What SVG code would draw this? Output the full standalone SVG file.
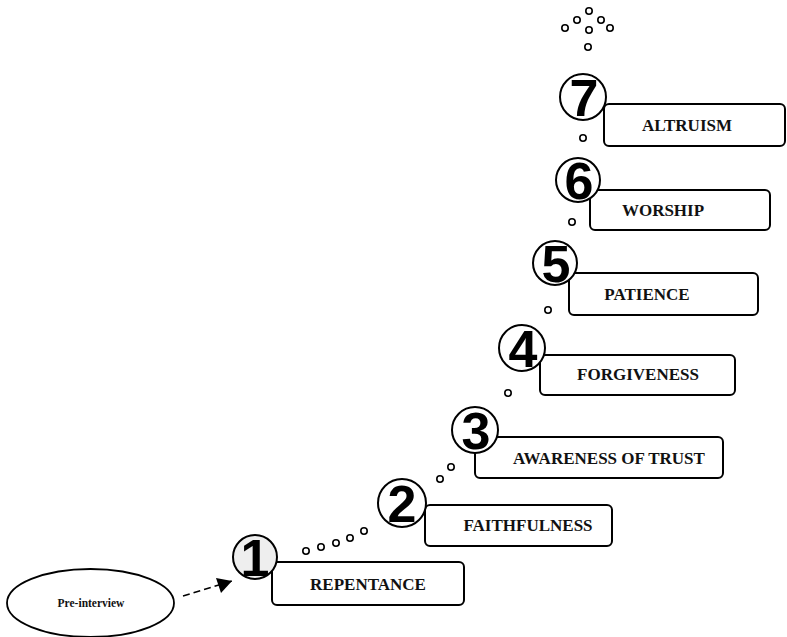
<svg xmlns="http://www.w3.org/2000/svg" width="787" height="637" viewBox="0 0 787 637">
<style>
.box{fill:#fff;stroke:#000;stroke-width:2}
.num{fill:#fff;stroke:#000;stroke-width:2}
.lbl{font-family:"Liberation Serif",serif;font-weight:bold;font-size:17px;text-anchor:middle;fill:#111}
.dig{font-family:"Liberation Sans",Arial,sans-serif;font-weight:bold;font-size:52px;text-anchor:middle;fill:#000}
.dot{fill:#fff;stroke:#000;stroke-width:1.6}
</style>
<defs>
<marker id="ah" markerWidth="10" markerHeight="8" refX="9" refY="4" orient="auto" markerUnits="userSpaceOnUse" viewBox="0 0 10 8">
<path d="M0,0 L10,4 L0,8 Z" fill="#000"/>
</marker>
</defs>
<rect width="787" height="637" fill="#fff"/>
<g id="connectors">
<line x1="183" y1="596" x2="232" y2="581" stroke="#000" stroke-width="1.5" stroke-dasharray="7,4"/>
<path d="M232,581 L216,578 L221,593 Z" fill="#000"/>
<g class="dots">
<circle class="dot" cx="306" cy="551" r="3.2"/>
<circle class="dot" cx="321" cy="547" r="3.2"/>
<circle class="dot" cx="336" cy="543" r="3.2"/>
<circle class="dot" cx="350" cy="538" r="3.2"/>
<circle class="dot" cx="364" cy="531" r="3.2"/>
<circle class="dot" cx="440" cy="479" r="3.2"/>
<circle class="dot" cx="451" cy="467" r="3.2"/>
<circle class="dot" cx="508" cy="393" r="3.2"/>
<circle class="dot" cx="548" cy="310" r="3.2"/>
<circle class="dot" cx="572" cy="222" r="3.2"/>
<circle class="dot" cx="583" cy="138" r="3.2"/>
<circle class="dot" cx="588" cy="47" r="3.2"/>
<circle class="dot" cx="589" cy="11" r="3.2"/>
<circle class="dot" cx="577" cy="20" r="3.2"/>
<circle class="dot" cx="601" cy="20" r="3.2"/>
<circle class="dot" cx="565" cy="28" r="3.2"/>
<circle class="dot" cx="589" cy="30" r="3.2"/>
<circle class="dot" cx="610" cy="28" r="3.2"/>
</g>
</g>
<g id="pre-interview">
<ellipse cx="90.5" cy="603" rx="83.5" ry="34" fill="#fff" stroke="#000" stroke-width="1.8"/>
<text x="91" y="607" font-family="Liberation Serif,serif" font-weight="bold" font-size="11.5" text-anchor="middle" fill="#111">Pre-interview</text>
</g>
<g id="step1">
<rect class="box" x="272" y="562" width="192" height="43" rx="5"/>
<text class="lbl" x="368" y="590">REPENTANCE</text>
<circle class="num" cx="255" cy="557" r="22" style="fill:#eee"/>
<text class="dig" x="255" y="576">1</text>
</g>
<g id="step2">
<rect class="box" x="425" y="505" width="187" height="41" rx="5"/>
<text class="lbl" x="528" y="531">FAITHFULNESS</text>
<circle class="num" cx="402" cy="503" r="24"/>
<text class="dig" x="402" y="522">2</text>
</g>
<g id="step3">
<rect class="box" x="475" y="437" width="248" height="41" rx="5"/>
<text class="lbl" x="609" y="464">AWARENESS OF TRUST</text>
<circle class="num" cx="475" cy="430" r="23"/>
<text class="dig" x="476" y="449">3</text>
</g>
<g id="step4">
<rect class="box" x="540" y="355" width="195" height="40" rx="5"/>
<text class="lbl" x="638" y="380">FORGIVENESS</text>
<circle class="num" cx="522" cy="348" r="23"/>
<text class="dig" x="523" y="367">4</text>
</g>
<g id="step5">
<rect class="box" x="569" y="273" width="189" height="42" rx="5"/>
<text class="lbl" x="647" y="300">PATIENCE</text>
<circle class="num" cx="555" cy="263" r="22"/>
<text class="dig" x="556" y="282">5</text>
</g>
<g id="step6">
<rect class="box" x="590" y="190" width="180" height="40" rx="5"/>
<text class="lbl" x="663" y="216">WORSHIP</text>
<circle class="num" cx="578" cy="180" r="22"/>
<text class="dig" x="579" y="199">6</text>
</g>
<g id="step7">
<rect class="box" x="604" y="104" width="181" height="42" rx="5"/>
<text class="lbl" x="687" y="131">ALTRUISM</text>
<circle class="num" cx="583" cy="97" r="23"/>
<text class="dig" x="584" y="116">7</text>
</g>
</svg>
